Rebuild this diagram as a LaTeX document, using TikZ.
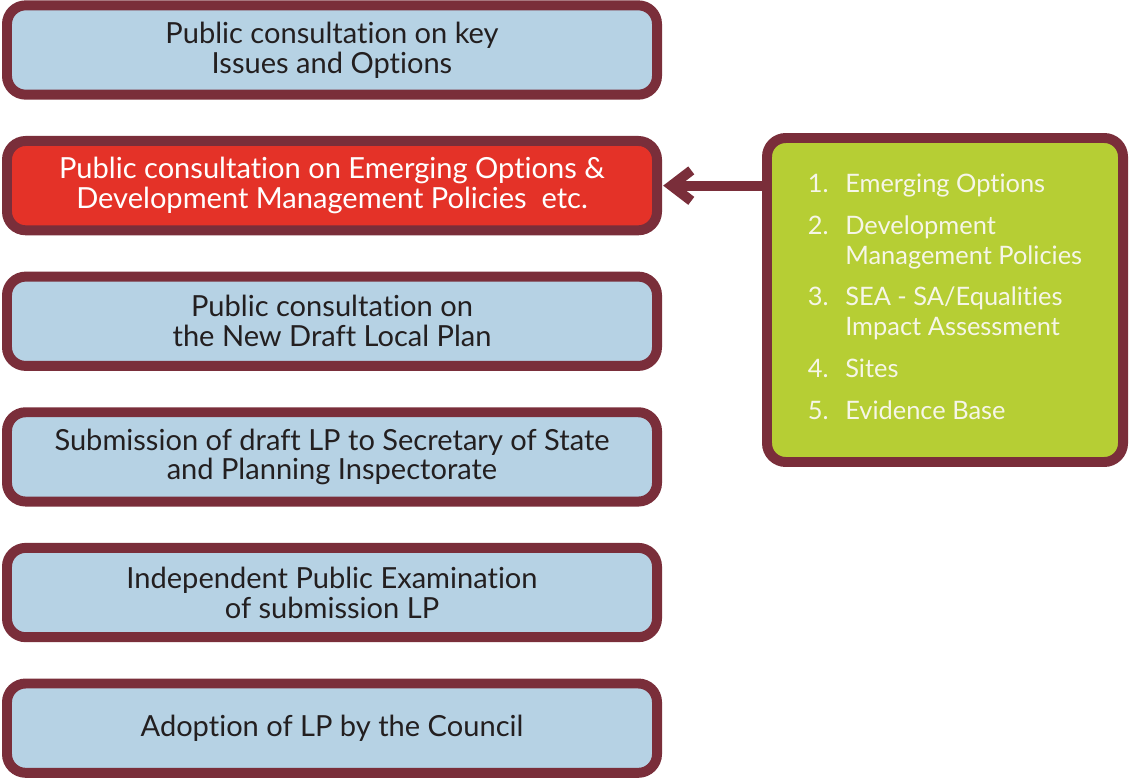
\documentclass[tikz,border=0pt]{standalone}
\usepackage{fontspec}
\setmainfont{Lato}[Ligatures=NoCommon]
\definecolor{frameplum}{RGB}{122, 46, 58}
\definecolor{stageblue}{RGB}{182, 210, 228}
\definecolor{activered}{RGB}{228, 50, 40}
\definecolor{listgreen}{RGB}{182, 206, 52}
\definecolor{inkgray}{RGB}{35, 31, 32}
\definecolor{listwhite}{RGB}{246, 246, 232}
\usetikzlibrary{arrows.meta, positioning}

\begin{document}
\begin{tikzpicture}[x=0.03cm, y=-0.03cm, node distance=1.09cm,
  stagebox/.style={draw=frameplum, line width=8.5pt, rounded corners=16pt,
    fill=stageblue, text=inkgray, minimum width=19.5cm, minimum height=2.68cm,
    align=center, font=\fontsize{24.8}{25.5}\selectfont},
  activebox/.style={stagebox, fill=activered, text=white},
  listbox/.style={draw=frameplum, line width=8.5pt, rounded corners=16pt,
    fill=listgreen, text=listwhite, minimum width=10.68cm, minimum height=9.72cm,
    font=\fontsize{21.7}{25.5}\selectfont}]
  \useasboundingbox (0, 0) rectangle (1129, 780);

  % Stages of the plan
  \node[stagebox] (issues) at (332, 50) {Public consultation on key\\Issues and Options};
  \node[activebox, below=of issues] (emerging) {Public consultation on Emerging Options \&\\Development Management Policies\ \ etc.};
  \node[stagebox, below=of emerging] (draft) {Public consultation on\\the New Draft Local Plan};
  \node[stagebox, below=of draft] (submit) {Submission of draft LP to Secretary of State\\and Planning Inspectorate};
  \node[stagebox, below=of submit] (exam) {Independent Public Examination\\of submission LP};
  \node[stagebox, below=of exam] (adopt) {Adoption of LP by the Council};

  % Documents feeding the current stage
  \node[listbox] (docs) at (945, 300) {%
    \raisebox{-4pt}{\begin{tabular}{@{}l@{\hspace{0.5cm}}l@{}}
      1. & Emerging Options\\[10pt]
      2. & Development\\
         & Management Policies\\[10pt]
      3. & SEA - SA/Equalities\\
         & Impact Assessment\\[10pt]
      4. & Sites\\[10pt]
      5. & Evidence Base
    \end{tabular}}};

  \draw[frameplum, line width=8.5pt, shorten >=1pt,
    -{Straight Barb[length=17pt, width=26pt]}] (docs.west |- emerging.east) -- (emerging.east);
\end{tikzpicture}
\end{document}
